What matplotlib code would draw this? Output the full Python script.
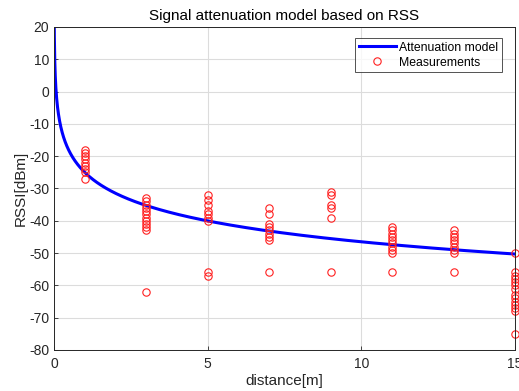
import numpy as np
import matplotlib
matplotlib.use("Agg")
import matplotlib.pyplot as plt

plt.rcParams['font.family'] = ['Liberation Sans', 'DejaVu Sans']
plt.rcParams['axes.unicode_minus'] = False

# Model parameters (log-distance path loss): RSSI = A - 10 n log10(d)
A_ref = -25.0
n_exp = 2.15

# Measurements
d1 = [1] * 9
r1 = [-18, -19, -20, -21, -22, -23, -24, -25, -27]
d3 = [3] * 12
r3 = [-33, -34, -35, -36, -37, -38, -39, -40, -41, -42, -43, -62]
d5 = [5] * 9
r5 = [-32, -33.5, -35, -37, -38, -39, -40, -56, -57]
d7 = [7] * 9
r7 = [-36, -38, -41, -42, -43, -44, -45, -46, -56]
d9 = [9] * 6
r9 = [-31, -32, -35, -36, -39, -56]
d11 = [11] * 10
r11 = [-42, -43, -44, -45, -46, -47, -48, -49, -50, -56]
d13 = [13] * 9
r13 = [-43, -44, -45, -46, -47, -48, -49, -50, -56]
d15 = [15] * 14
r15 = [-50, -56, -57, -58, -59, -60, -61, -63, -64, -65, -66, -67, -68, -75]

meas_d = d1 + d3 + d5 + d7 + d9 + d11 + d13 + d15
meas_r = r1 + r3 + r5 + r7 + r9 + r11 + r13 + r15

x_ticks = [0, 5, 10, 15]
y_ticks = [20, 10, 0, -10, -20, -30, -40, -50, -60, -70, -80]

fig = plt.figure(figsize=(5.19, 3.91), dpi=100)
ax = fig.add_axes([54/519, 1 - 350/391, 461/519, 323/391])

d_model = np.linspace(0.001, 15, 3000)
rssi_model = A_ref - 10 * n_exp * np.log10(d_model)
ax.plot(d_model, rssi_model, color='#0000ff', lw=2.2, label='Attenuation model')
ax.plot(meas_d, meas_r, linestyle='none', marker='o', markersize=5.3,
        markerfacecolor='none', markeredgecolor='#ff2020', markeredgewidth=0.8,
        label='Measurements', clip_on=False)

ax.set_xlim(0, 15)
ax.set_ylim(-80, 20)
ax.set_xticks(x_ticks)
ax.set_yticks(y_ticks)
ax.grid(True, color='#dcdcdc', linewidth=0.8)
ax.set_axisbelow(True)
ax.tick_params(direction='in', length=3, labelsize=10, colors='#262626', width=0.6)
ax.tick_params(axis='x', pad=5)
for s in ax.spines.values():
    s.set_color('#262626')
    s.set_linewidth(0.7)

ax.set_title('Signal attenuation model based on RSS', fontsize=11, color='#000000', pad=5)
ax.set_xlabel('distance[m]', fontsize=11, color='#262626', labelpad=2)
ax.set_ylabel('RSSI[dBm]', fontsize=11, color='#262626', labelpad=1)

leg = ax.legend(loc='upper right', bbox_to_anchor=(0.972, 0.966), borderaxespad=0,
                fontsize=8.8, frameon=True, fancybox=False, handlelength=3.0,
                handletextpad=0.3, borderpad=0.3, labelspacing=0.25)
leg.get_frame().set_edgecolor('#262626')
leg.get_frame().set_linewidth(0.7)

fig.savefig('out.png', dpi=100)
